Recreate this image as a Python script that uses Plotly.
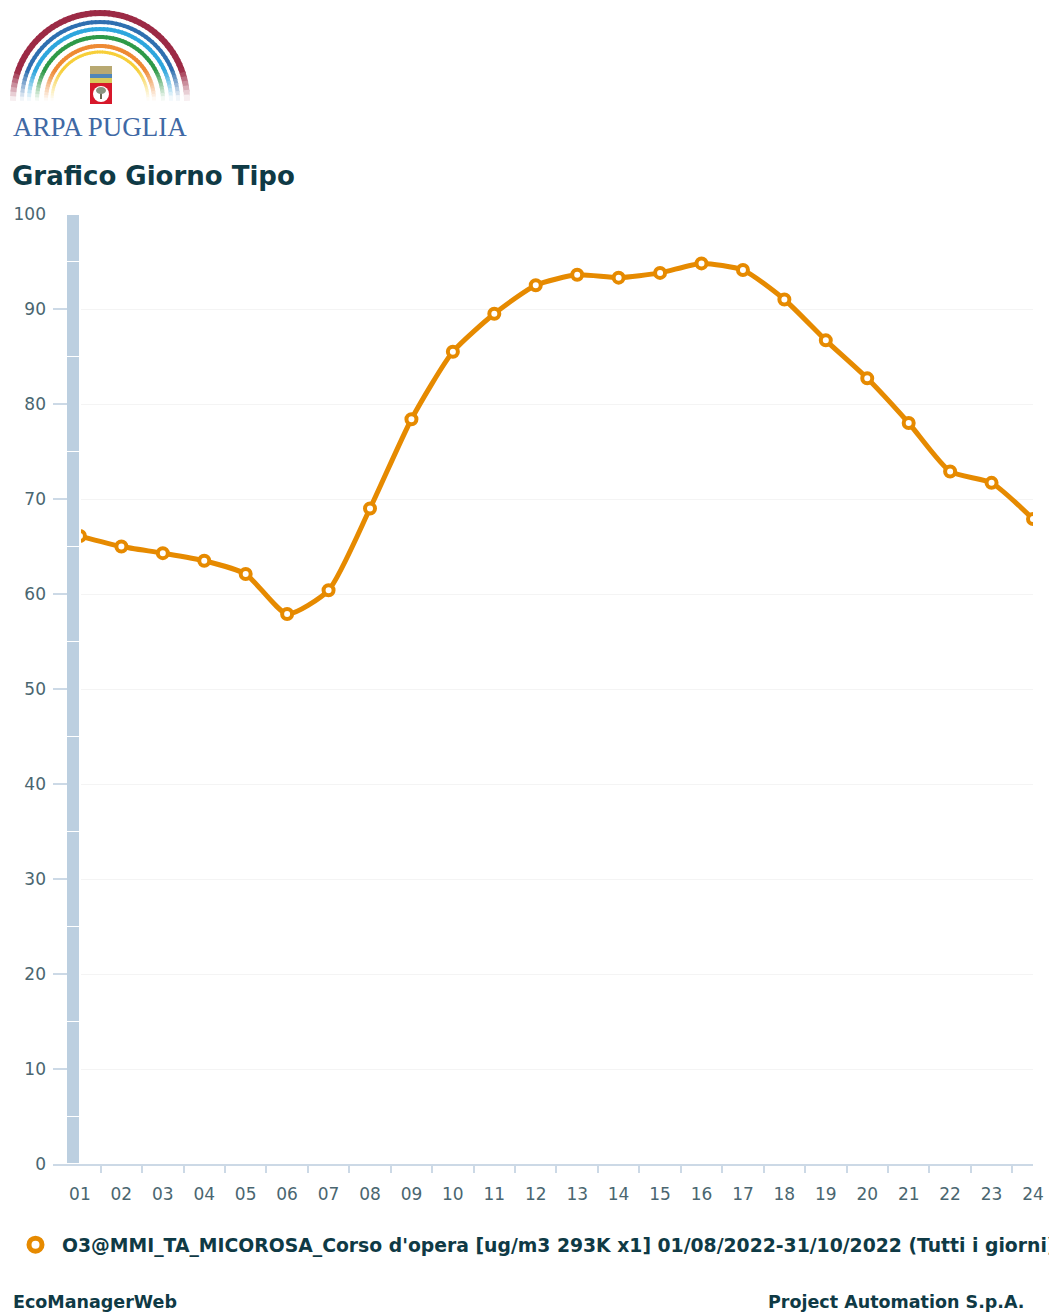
import numpy as np
import plotly.graph_objects as go

hours = [f"{h:02d}" for h in range(1, 25)]
o3_values = [66.1, 65.0, 64.3, 63.5, 62.1, 57.9, 60.4, 69.0, 78.4, 85.5, 89.5, 92.5,
             93.6, 93.3, 93.8, 94.8, 94.1, 91.0, 86.7, 82.7, 78.0, 72.9, 71.7, 67.9]
band_segments = [5, 10, 10, 10, 10, 10, 10, 10, 10, 10, 5]
y_ticks = list(range(0, 101, 10))
legend_name = "O3@MMI_TA_MICOROSA_Corso d'opera [ug/m3 293K x1] 01/08/2022-31/10/2022 (Tutti i giorni)"
TXT = "#0f3a45"
TICK = "#4a6670"
AXC = "#ccd9e6"
ORANGE = "#e68a00"
W, H = 1049, 1312
L, R, T, B = 53, 16, 214, 148
pw, ph = W - L - R, H - T - B
def px(x): return (x - L) / pw
def py(y): return (H - B - y) / ph
positions = list(range(len(hours)))
x_range = [-0.65, 23]

fig = go.Figure()
fig.add_trace(go.Scatter(x=positions, y=o3_values, mode="lines+markers",
                         line=dict(color=ORANGE, width=5, shape="spline", smoothing=0.6),
                         marker=dict(symbol="circle", size=10, color="white", line=dict(color=ORANGE, width=4)),
                         cliponaxis=True, showlegend=False))
for s in band_segments:
    fig.add_trace(go.Bar(x=[0], y=[s], width=0.33, offset=-0.33, xaxis="x2", yaxis="y2",
                         marker=dict(color="#bccfe0", line=dict(color="white", width=1.5)),
                         showlegend=False, hoverinfo="skip"))
fig.add_trace(go.Scatter(x=[None], y=[None], mode="markers", name=legend_name,
                         marker=dict(symbol="circle", size=13, color="white", line=dict(color=ORANGE, width=5))))

shapes = []
arcs = [(87, 6, (156, 42, 69)), (78, 4, (47, 111, 176)), (71, 4, (46, 166, 221)),
        (63, 4, (46, 154, 72)), (54, 4, (238, 138, 52)), (48, 3, (247, 207, 58))]
cx, cy = 100, 100
for r, w, c in arcs:
    n = 60
    th = np.linspace(np.pi, 0, n + 1)
    for i in range(n):
        mid = (th[i] + th[i+1]) / 2
        yy = cy - r * np.sin(mid)
        op = min(1.0, max(0.0, (cy - yy) / 30))
        col = "rgb(" + ",".join(str(int(255 - (255 - v) * op)) for v in c) + ")"
        a, b = th[i] + 0.01, th[i+1] - 0.01
        x0, y0 = cx + r*np.cos(a), cy - r*np.sin(a)
        x1, y1 = cx + r*np.cos(b), cy - r*np.sin(b)
        shapes.append(dict(type="path", xref="paper", yref="paper",
                           path=f"M {px(x0):.5f} {py(y0):.5f} L {px(x1):.5f} {py(y1):.5f}",
                           line=dict(color=col, width=w)))
def rect(x0, y0, x1, y1, color):
    shapes.append(dict(type="rect", xref="paper", yref="paper", x0=px(x0), x1=px(x1), y0=py(y0), y1=py(y1),
                       fillcolor=color, line=dict(width=0)))
rect(90, 66, 112, 74, "#b8a972")
rect(90, 74, 112, 78, "#4f86b8")
rect(90, 78, 112, 84, "#d8c95a")
rect(90, 83, 112, 104, "#d7182a")
shapes.append(dict(type="circle", xref="paper", yref="paper", x0=px(93), x1=px(109), y0=py(86), y1=py(102), fillcolor="white", line=dict(width=0)))
rect(100, 91, 102, 99, "#6b6b55")
shapes.append(dict(type="circle", xref="paper", yref="paper", x0=px(96), x1=px(106), y0=py(87), y1=py(94), fillcolor="#8a9480", line=dict(width=0)))

annotations = [
    dict(text="ARPA PUGLIA", x=px(100), y=py(127), xref="paper", yref="paper", xanchor="center", yanchor="middle", showarrow=False,
         font=dict(family="Liberation Serif", size=27, color="#3f69a5")),
    dict(text="<b>Grafico Giorno Tipo</b>", x=px(10), y=py(176), xref="paper", yref="paper", xanchor="left", yanchor="middle", showarrow=False,
         font=dict(family="DejaVu Sans", size=26, color=TXT)),
    dict(text="<b>EcoManagerWeb</b>", x=px(11), y=py(1302), xref="paper", yref="paper", xanchor="left", yanchor="middle", showarrow=False,
         font=dict(family="DejaVu Sans", size=17.5, color=TXT)),
    dict(text="<b>Project Automation S.p.A.</b>", x=px(1027), y=py(1302), xref="paper", yref="paper", xanchor="right", yanchor="middle", showarrow=False,
         font=dict(family="DejaVu Sans", size=17.5, color=TXT)),
]

fig.update_layout(
    width=W, height=H, margin=dict(l=L, r=R, t=T, b=B, autoexpand=False), paper_bgcolor="white", plot_bgcolor="white", barmode="stack",
    font=dict(family="DejaVu Sans", color=TICK, size=17),
    xaxis=dict(range=x_range, tickmode="array", tickvals=positions, ticktext=hours, showgrid=False, showline=True,
               linecolor=AXC, linewidth=2, ticks="", tickfont=dict(size=17, color=TICK), zeroline=False,
               ticklabeloverflow="allow", ticklabelstandoff=14,
               minor=dict(tickmode="array", tickvals=[p + 0.5 for p in positions[:-1]], ticks="outside", ticklen=7, tickcolor=AXC, tickwidth=2, showgrid=False)),
    yaxis=dict(range=[0, 100], tickmode="array", tickvals=y_ticks, showgrid=True, gridcolor="#f4f4f4", gridwidth=1, zeroline=False,
               showline=False, ticks="inside", ticklen=14, tickwidth=2, tickcolor=AXC, ticklabelposition="outside",
               tickfont=dict(size=17, color=TICK), ticklabelstandoff=6),
    xaxis2=dict(range=x_range, overlaying="x", visible=False),
    yaxis2=dict(range=[0, 100], overlaying="y", visible=False),
    shapes=shapes, annotations=annotations,
    legend=dict(x=px(9), y=py(1245), xanchor="left", yanchor="middle", orientation="h", itemwidth=43,
                font=dict(family="DejaVu Sans", size=18.8, color=TXT, weight="bold"), bgcolor="rgba(0,0,0,0)"),
)
fig.write_html("out.html", config=dict(displayModeBar=False), post_script="document.body.style.margin='0';document.body.style.overflow='hidden';")
